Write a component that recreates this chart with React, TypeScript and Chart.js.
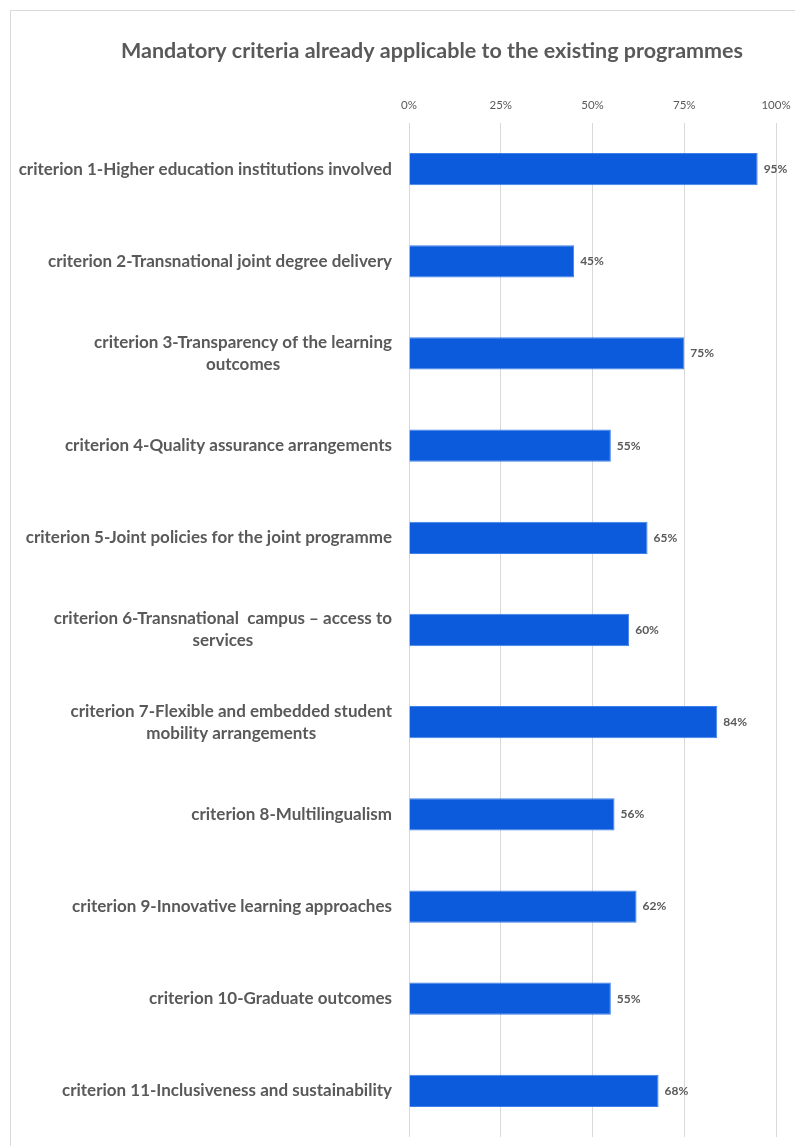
import React, { useEffect, useRef } from "react";
import { Chart, registerables } from "chart.js";

Chart.register(...registerables);

const categories: (string | string[])[] = [
  "criterion 1-Higher education institutions involved",
  "criterion 2-Transnational joint degree delivery",
  ["criterion 3-Transparency of the learning", "outcomes"],
  "criterion 4-Quality assurance arrangements",
  "criterion 5-Joint policies for the joint programme",
  ["criterion 6-Transnational  campus \u2013 access to", "services"],
  ["criterion 7-Flexible and embedded student", "mobility arrangements"],
  "criterion 8-Multilingualism",
  "criterion 9-Innovative learning approaches",
  "criterion 10-Graduate outcomes",
  "criterion 11-Inclusiveness and sustainability",
];

const values: number[] = [95, 45, 75, 55, 65, 60, 84, 56, 62, 55, 68];

const tickValues: number[] = [0, 25, 50, 75, 100];

const titleText = "Mandatory criteria already applicable to the existing programmes";

const FONT = "Lato, 'Noto Sans', sans-serif";
const GRAY = "#595959";

const labelPlugin = {
  id: "customLabels",
  afterDraw(chart: any) {
    const ctx = chart.ctx;
    const yScale = chart.scales.y;
    const area = chart.chartArea;
    ctx.save();
    // title
    ctx.font = `bold 21.5px ${FONT}`;
    ctx.fillStyle = GRAY;
    ctx.textAlign = "center";
    ctx.textBaseline = "alphabetic";
    ctx.fillText(titleText, 432, 58);
    // category labels
    ctx.font = `bold 17px ${FONT}`;
    ctx.textBaseline = "middle";
    ctx.textAlign = "center";
    const rightEdge = area.left - 17;
    const lh = 22;
    categories.forEach((c, i) => {
      const lines = Array.isArray(c) ? c : [c];
      const widest = Math.max(...lines.map((l) => ctx.measureText(l).width));
      const cx = rightEdge - widest / 2;
      const cy = yScale.getPixelForValue(i);
      const top = cy - ((lines.length - 1) * lh) / 2;
      lines.forEach((l, j) => ctx.fillText(l, cx, top + j * lh));
    });
    // data labels
    const meta = chart.getDatasetMeta(0);
    ctx.font = `bold 12px ${FONT}`;
    ctx.textAlign = "left";
    meta.data.forEach((bar: any, i: number) => {
      ctx.fillText(`${values[i]}%`, bar.x + 6, bar.y);
    });
    ctx.restore();
  },
};

export default function App() {
  const ref = useRef<HTMLCanvasElement | null>(null);
  useEffect(() => {
    if (!ref.current) return;
    const chart = new Chart(ref.current, {
      type: "bar",
      data: {
        labels: categories.map((c) => (Array.isArray(c) ? c.join(" ") : c)),
        datasets: [
          {
            data: values,
            backgroundColor: "#0d5bdd",
            borderColor: "#3d80ea",
            borderWidth: 1,
            barPercentage: 0.35,
            categoryPercentage: 1,
          },
        ],
      },
      options: {
        indexAxis: "y",
        responsive: false,
        animation: false,
        layout: { padding: { left: 10, right: 19, top: 62, bottom: 9 } },
        plugins: {
          legend: { display: false },
          tooltip: { enabled: false },
          title: { display: false },
        },
        scales: {
          x: {
            position: "top",
            min: 0,
            max: 100,
            afterBuildTicks(scale: any) {
              scale.ticks = tickValues.map((v) => ({ value: v }));
            },
            afterFit(scale: any) {
              scale.height = 61;
              scale.paddingRight = 0;
              scale.paddingLeft = 0;
            },
            ticks: {
              color: GRAY,
              font: { family: FONT, size: 11.5 },
              padding: 11,
              callback: (v: any) => `${v}%`,
            },
            grid: { color: "#d9d9d9", drawTicks: false, lineWidth: 1 },
            border: { display: false },
          },
          y: {
            ticks: { display: false },
            afterFit(scale: any) {
              scale.width = 399;
            },
            grid: { display: false },
            border: { display: false },
          },
        },
      },
      plugins: [labelPlugin],
    } as any);
    return () => chart.destroy();
  }, []);
  return (
    <div style={{ position: "fixed", left: 0, top: 0, width: 795, height: 1146, background: "#fff" }}>
      <div
        style={{
          position: "absolute",
          left: 10,
          top: 10,
          width: 820,
          height: 1200,
          border: "1px solid #d9d9d9",
          boxSizing: "border-box",
        }}
      />
      <canvas ref={ref} width={795} height={1146} style={{ position: "absolute", left: 0, top: 0 }} />
    </div>
  );
}
